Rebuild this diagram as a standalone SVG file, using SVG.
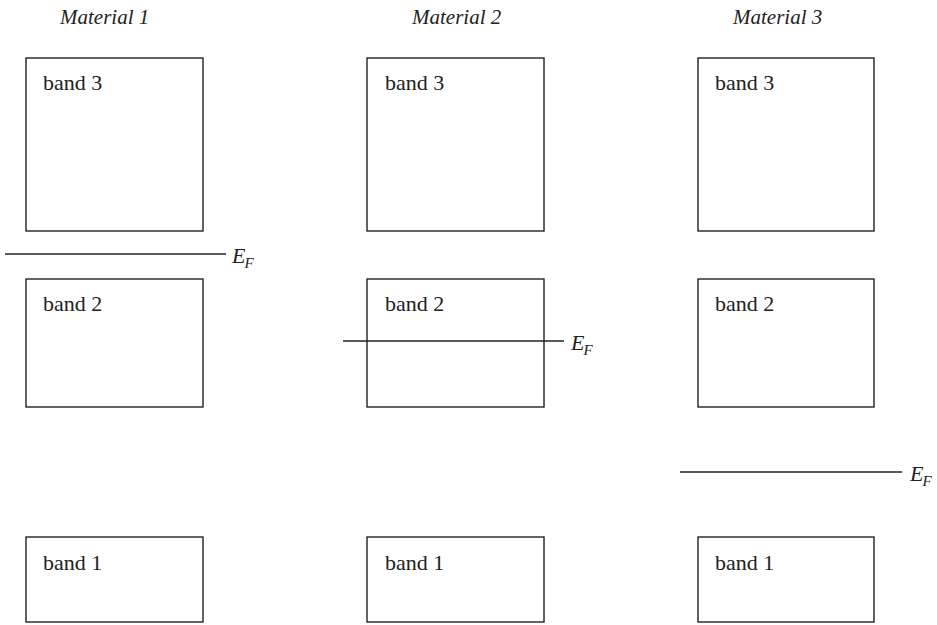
<svg xmlns="http://www.w3.org/2000/svg" width="937" height="625" viewBox="0 0 937 625">
<style>
.box{fill:none;stroke:#222;stroke-width:1.4}
.lbl{font-family:"Liberation Serif","Times New Roman",serif;font-size:22px;fill:#222}
.ttl{font-family:"Liberation Serif","Times New Roman",serif;font-size:21px;font-style:italic;fill:#222}
.ef{stroke:#222;stroke-width:1.4}
.eft{font-family:"Liberation Serif","Times New Roman",serif;font-size:22px;font-style:italic;fill:#222}
.sub{font-size:15px}
</style>
<rect width="937" height="625" fill="#fff"/>
<g id="titles">
<text class="ttl" x="60" y="24">Material 1</text>
<text class="ttl" x="412" y="24">Material 2</text>
<text class="ttl" x="733" y="24">Material 3</text>
</g>
<g id="m1-band3"><rect class="box" x="26" y="58" width="177" height="173"/><text class="lbl" x="43" y="90">band 3</text></g>
<g id="m1-band2"><rect class="box" x="26" y="279" width="177" height="128"/><text class="lbl" x="43" y="311">band 2</text></g>
<g id="m1-band1"><rect class="box" x="26" y="537" width="177" height="85"/><text class="lbl" x="43" y="570">band 1</text></g>
<g id="m2-band3"><rect class="box" x="367" y="58" width="177" height="173"/><text class="lbl" x="385" y="90">band 3</text></g>
<g id="m2-band2"><rect class="box" x="367" y="279" width="177" height="128"/><text class="lbl" x="385" y="311">band 2</text></g>
<g id="m2-band1"><rect class="box" x="367" y="537" width="177" height="85"/><text class="lbl" x="385" y="570">band 1</text></g>
<g id="m3-band3"><rect class="box" x="698" y="58" width="176" height="173"/><text class="lbl" x="715" y="90">band 3</text></g>
<g id="m3-band2"><rect class="box" x="698" y="279" width="176" height="128"/><text class="lbl" x="715" y="311">band 2</text></g>
<g id="m3-band1"><rect class="box" x="698" y="537" width="176" height="85"/><text class="lbl" x="715" y="570">band 1</text></g>
<g id="fermi-levels">
<line class="ef" x1="5" y1="254" x2="226" y2="254"/>
<text class="eft" x="232" y="263">E<tspan class="sub" dx="-1" dy="5">F</tspan></text>
<line class="ef" x1="343" y1="341" x2="564" y2="341"/>
<text class="eft" x="571" y="350">E<tspan class="sub" dx="-1" dy="5">F</tspan></text>
<line class="ef" x1="680" y1="472" x2="902" y2="472"/>
<text class="eft" x="910" y="481">E<tspan class="sub" dx="-1" dy="5">F</tspan></text>
</g>
</svg>
